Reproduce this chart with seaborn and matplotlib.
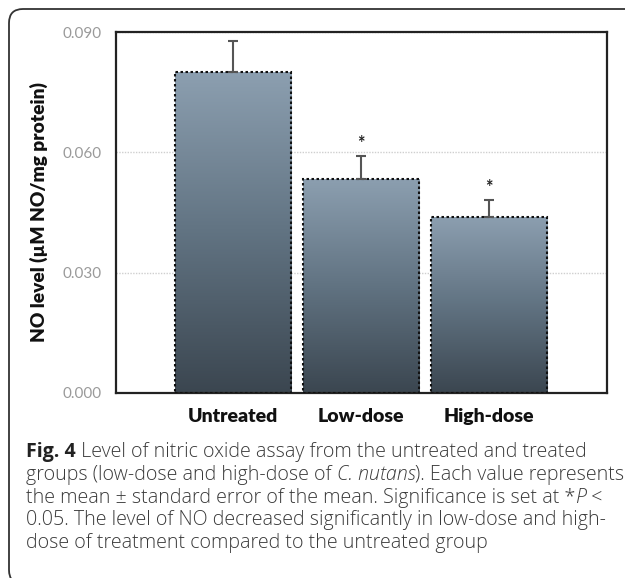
import numpy as np
import pandas as pd
import matplotlib
matplotlib.use("Agg")
import matplotlib.pyplot as plt
import seaborn as sns
from matplotlib.patches import FancyBboxPatch
from matplotlib.colors import LinearSegmentedColormap

# ---- data ----
groups = ["Untreated", "Low-dose", "High-dose"]
means = [0.0800, 0.0534, 0.0440]
sem = [0.0077, 0.0056, 0.0040]
stars = ["", "*", "*"]
yticks = [0.000, 0.030, 0.060, 0.090]
ytick_labels = ["0.000", "0.030", "0.060", "0.090"]
ylabel = "NO level (µM NO/mg protein)"

caption_lines = [
    [("Fig. 4", "bold"), (" Level of nitric oxide assay from the untreated and treated", "normal")],
    [("groups (low-dose and high-dose of ", "normal"), ("C. nutans", "italic"), ("). Each value represents", "normal")],
    [("the mean ± standard error of the mean. Significance is set at *", "normal"), ("P", "italic"), (" <", "normal")],
    [("0.05. The level of NO decreased significantly in low-dose and high-", "normal")],
    [("dose of treatment compared to the untreated group", "normal")],
]

sns.set_theme(style="white")
plt.rcParams["font.family"] = ["Lato", "DejaVu Sans"]

W, H = 625, 578
fig = plt.figure(figsize=(W / 100, H / 100), dpi=100)
fig.patch.set_facecolor("white")

# outer rounded frame
frame = FancyBboxPatch((23 / W, 1 - 570 / H), (640 - 23) / W, (570 - 23) / H,
                       boxstyle="round,pad=0.0,rounding_size=0.022",
                       transform=fig.transFigure, facecolor="none",
                       edgecolor="#333333", linewidth=1.3, zorder=-1,
                       mutation_aspect=W / H)
frame.set_boxstyle("round", pad=14 / W, rounding_size=14 / W)
fig.patches.append(frame)

ax = fig.add_axes([116 / W, 1 - 393 / H, 491 / W, 361 / H])
df = pd.DataFrame({"group": groups, "mean": means})
sns.barplot(data=df, x="group", y="mean", ax=ax, errorbar=None,
            width=0.906, color="#6b7c8a", saturation=1,
            edgecolor="#111111", linewidth=1.5, zorder=3)

cmap = LinearSegmentedColormap.from_list("bar", ["#3b4650", "#617382", "#8c9fb0"])
for p in ax.patches:
    p.set_linestyle((0, (1.2, 1.2)))
    x0, y0 = p.get_x(), p.get_y()
    w, h = p.get_width(), p.get_height()
    grad = np.linspace(0, 1, 256).reshape(-1, 1)
    im = ax.imshow(grad, cmap=cmap, aspect="auto", origin="lower",
                   extent=[x0, x0 + w, y0, y0 + h], zorder=2.5)
    im.set_clip_path(p)
    p.set_facecolor("none")

xs = np.arange(len(groups))
ax.errorbar(xs, means, yerr=[np.zeros(len(sem)), sem], fmt="none",
            ecolor="#555555", elinewidth=1.5, capsize=3.8, capthick=1.5, zorder=4)
for x, m, s, st in zip(xs, means, sem, stars):
    if st:
        ax.text(x, m + s + 0.0012, st, ha="center", va="bottom",
                fontsize=13, fontweight="bold", color="#222222", zorder=5)

ax.set_xlim(-0.91, 2.92)
ax.set_ylim(0, 0.090)
ax.set_yticks(yticks)
ax.set_yticklabels(ytick_labels)
ax.set_xlabel("")
ax.set_ylabel(ylabel, fontsize=13.8, fontweight="heavy", color="#111111", labelpad=11)
ax.tick_params(axis="y", length=0, pad=10, labelsize=11, labelcolor="#9a9a9a")
ax.tick_params(axis="x", length=0, pad=11, labelsize=14)
for lab in ax.get_xticklabels():
    lab.set_fontweight("heavy")
    lab.set_color("#111111")
ax.yaxis.grid(True, color="#cfcfcf", linestyle=(0, (1, 1)), linewidth=1, zorder=0)
ax.set_axisbelow(True)
for sp in ax.spines.values():
    sp.set_color("#222222")
    sp.set_linewidth(1.6)

# caption
fig.canvas.draw()
renderer = fig.canvas.get_renderer()
cap_kw = dict(fontsize=14.1, color="#3a3a3a", va="baseline", ha="left")


def text_width(s, style):
    kw = dict(cap_kw)
    kw["family"] = ["Open Sans", "DejaVu Sans"]
    if style == "bold":
        kw["fontweight"] = "bold"
    elif style == "italic":
        kw["fontstyle"] = "italic"
        kw["fontweight"] = "light"
    else:
        kw["fontweight"] = "light"
    t1 = fig.text(0, 0, "|" + s + "|", **kw)
    t2 = fig.text(0, 0, "||", **kw)
    w = t1.get_window_extent(renderer).width - t2.get_window_extent(renderer).width
    t1.remove(); t2.remove()
    return w, kw


baseline0 = 457
spacing = 22.8
for i, line in enumerate(caption_lines):
    xpx = 26
    ypx = baseline0 + i * spacing
    for s, style in line:
        w, kw = text_width(s, style)
        if style == "bold":
            kw["color"] = "#222222"
        fig.text(xpx / W, 1 - ypx / H, s, **kw)
        xpx += w

fig.savefig("out.png", dpi=100)
